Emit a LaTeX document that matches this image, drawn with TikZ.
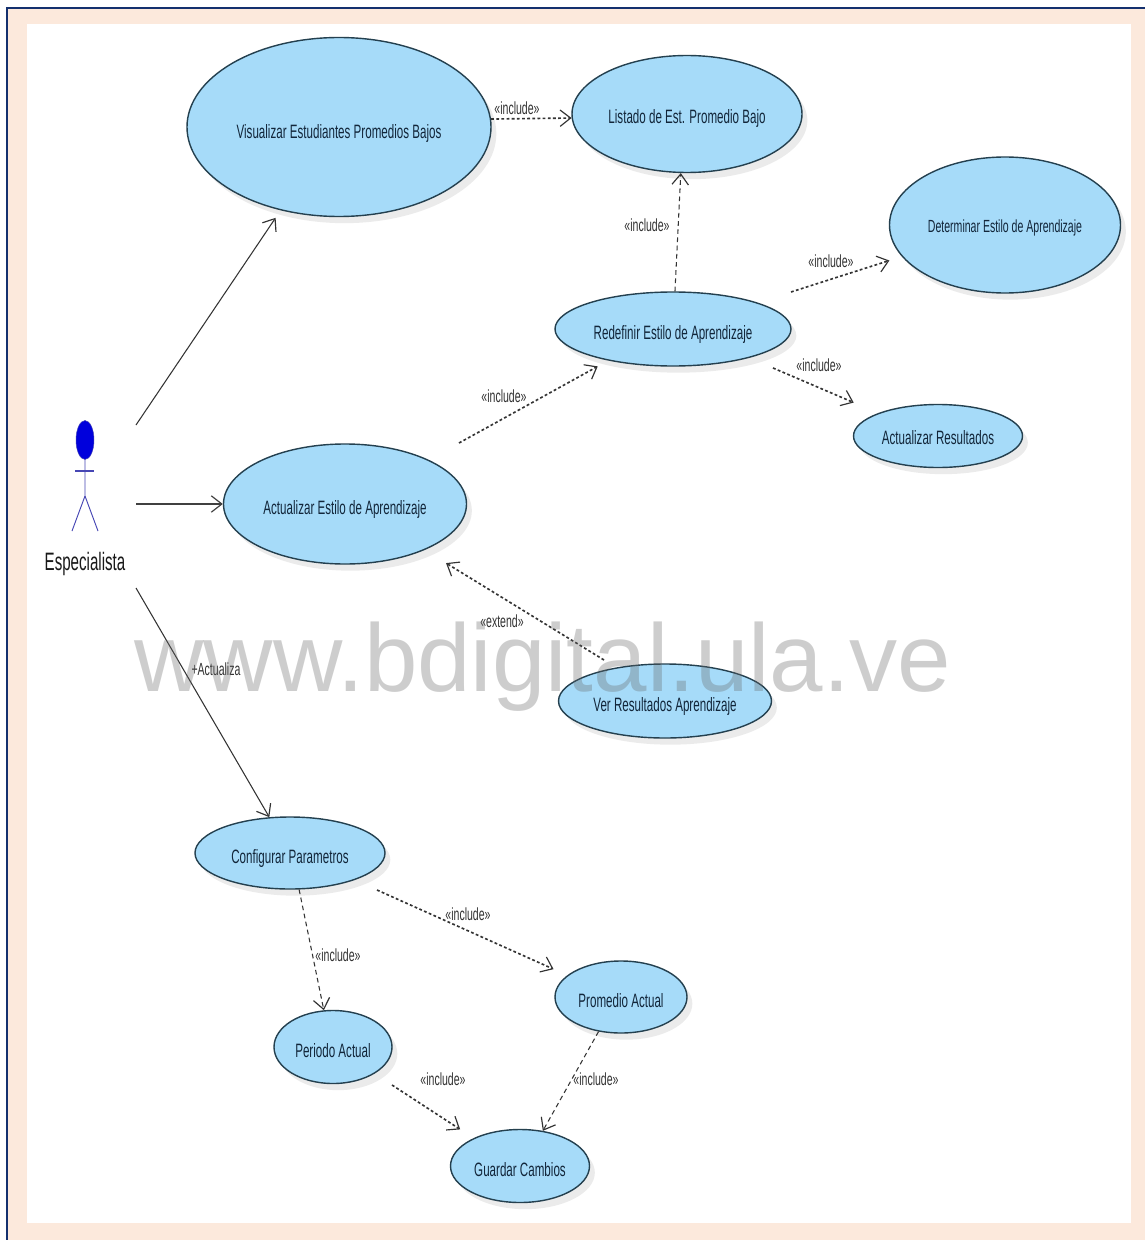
\documentclass[tikz,border=0pt]{standalone}
\usepackage{fontspec}
\setmainfont{Liberation Sans}
\newfontfamily\condfont[FakeStretch=0.6]{Liberation Sans}
\usetikzlibrary{shapes.geometric,arrows.meta,shadows}
\definecolor{peach}{HTML}{FCE9DC}
\definecolor{navyline}{HTML}{14306E}
\definecolor{ucfill}{HTML}{A6DBF9}
\definecolor{ucline}{HTML}{24404F}
\definecolor{uctext}{HTML}{12263A}
\definecolor{actorblue}{HTML}{0000DC}
\definecolor{actorline}{HTML}{4646B4}
\newcommand{\uctxt}[1]{\makebox[0pt]{#1}}
\tikzset{
  uc/.style={ellipse,draw=ucline,line width=1.2pt,fill=ucfill,inner sep=0pt,
    text=uctext,font=\condfont\fontsize{16.5}{18}\selectfont,
    text height=.6cm,text depth=0pt,
    drop shadow={shadow xshift=.16cm,shadow yshift=-.2cm,opacity=.08,fill=black}},
  tip/.style={-{Straight Barb[length=9pt,width=14pt,line width=1pt]}},
  assoc/.style={draw=black!80,line width=.9pt,tip},
  assocb/.style={draw=black!75,line width=1.5pt,tip},
  dep/.style={draw=black!80,line width=.9pt,dash pattern=on 4pt off 3pt,tip},
  depb/.style={draw=black!80,line width=1.4pt,dash pattern=on 2.4pt off 2pt,tip},
  lbl/.style={inner sep=0pt,text=black!80,font=\condfont\fontsize{15}{16}\selectfont},
  actorln/.style={draw=actorline,line width=.8pt}
}
\begin{document}
\begin{tikzpicture}[x=.03cm,y=-.03cm]
\useasboundingbox (0,0) rectangle (1145,1240);
\fill[white] (0,0) rectangle (1145,1240);
\fill[peach] (7,8) rectangle (1145,1240);
\fill[white] (27,24) rectangle (1131,1223);
\draw[navyline,line width=1.6pt] (7,1240) -- (7,8) -- (1145,8);

% use cases
\node[uc,minimum width=304*.03cm,minimum height=179*.03cm,text height=.72cm] (vis) at (339,127) {\uctxt{Visualizar Estudiantes Promedios Bajos}};
\node[uc,minimum width=230*.03cm,minimum height=117*.03cm] (list) at (687,114) {\uctxt{Listado de Est. Promedio Bajo}};
\node[uc,minimum width=231*.03cm,minimum height=136*.03cm,font=\condfont\fontsize{15}{18}\selectfont,text height=.44cm] (det) at (1005,225) {\uctxt{Determinar Estilo de Aprendizaje}};
\node[uc,minimum width=236*.03cm,minimum height=74*.03cm] (redef) at (673,329) {\uctxt{Redefinir Estilo de Aprendizaje}};
\node[uc,minimum width=169*.03cm,minimum height=63*.03cm,text height=.5cm] (actres) at (938,436) {\uctxt{Actualizar Resultados}};
\node[uc,minimum width=243*.03cm,minimum height=120*.03cm] (act) at (345,504) {\uctxt{Actualizar Estilo de Aprendizaje}};
\node[uc,minimum width=213*.03cm,minimum height=74*.03cm] (ver) at (665,701) {\uctxt{Ver Resultados Aprendizaje}};
\node[uc,minimum width=190*.03cm,minimum height=72*.03cm] (config) at (290,853) {\uctxt{Configurar Parametros}};
\node[uc,minimum width=132*.03cm,minimum height=72*.03cm] (prom) at (621,997) {\uctxt{Promedio Actual}};
\node[uc,minimum width=118*.03cm,minimum height=73*.03cm] (peri) at (333,1047) {\uctxt{Periodo Actual}};
\node[uc,minimum width=139*.03cm,minimum height=73*.03cm] (guard) at (520,1166) {\uctxt{Guardar Cambios}};

% actor
\node[ellipse,fill=actorblue,draw=actorline,line width=.4pt,inner sep=0pt,minimum width=18*.03cm,minimum height=39*.03cm] (head) at (85,440) {};
\coordinate (hip) at (85,496);
\coordinate (armL) at (75,471);
\coordinate (armR) at (94,471);
\coordinate (legL) at (72,531);
\coordinate (legR) at (98,531);
\draw[actorln] (head.south) -- (hip) -- (legL);
\draw[actorln] (hip) -- (legR);
\draw[actorln,line width=1.2pt] (armL) -- (armR);
\node[inner sep=0pt,text=black!90,font=\condfont\fontsize{21.5}{24}\selectfont] (especialista) at (85,564) {Especialista};

% free ends of connectors
\coordinate (act1) at (136,425);
\coordinate (act2) at (136,504);
\coordinate (act3) at (136,588);
\coordinate (redefA) at (791,292);
\coordinate (redefB) at (773,368);
\coordinate (actOut) at (459,443);
\coordinate (verOut) at (604,660);
\coordinate (configOut) at (377,890);
\coordinate (periOut) at (392,1085);

% connectors
\draw[assoc,shorten >=.27cm] (act1) -- (vis.235);
\draw[assocb] (act2) -- (act.180);
\draw[assoc] (act3) -- (config.120);
\draw[depb] (vis.3) -- (list.182);
\draw[dep] (redef.87) -- (list.264);
\draw[depb,shorten >=.39cm] (redefA) -- (det.197);
\draw[depb,shorten >=.8cm] (redefB) -- (actres.159);
\draw[depb,shorten >=.36cm] (actOut) -- (redef.206);
\draw[depb,shorten >=.75cm] (verOut) -- (act.-30);
\draw[dep] (config.-76) -- (peri.104);
\draw[depb,shorten >=.45cm] (configOut) -- (prom.158);
\draw[depb,shorten >=.48cm] (periOut) -- (guard.149);
\draw[dep] (prom.237) -- (guard.57);

% connector labels
\node[lbl] (l1) at (517,108) {«include»};
\node[lbl] (l2) at (647,225) {«include»};
\node[lbl] (l3) at (831,261) {«include»};
\node[lbl] (l4) at (819,365) {«include»};
\node[lbl] (l5) at (504,396) {«include»};
\node[lbl] (l6) at (502,621) {«extend»};
\node[lbl] (l7) at (216,669) {+Actualiza};
\node[lbl] (l8) at (338,955) {«include»};
\node[lbl] (l9) at (468,914) {«include»};
\node[lbl] (l10) at (443,1079) {«include»};
\node[lbl] (l11) at (596,1079) {«include»};

% watermark
\node[inner sep=0pt,text=black!60,text opacity=.32,font=\fontsize{82}{88}\selectfont] (mark) at (543,667) {www.bdigital.ula.ve};
\end{tikzpicture}
\end{document}
